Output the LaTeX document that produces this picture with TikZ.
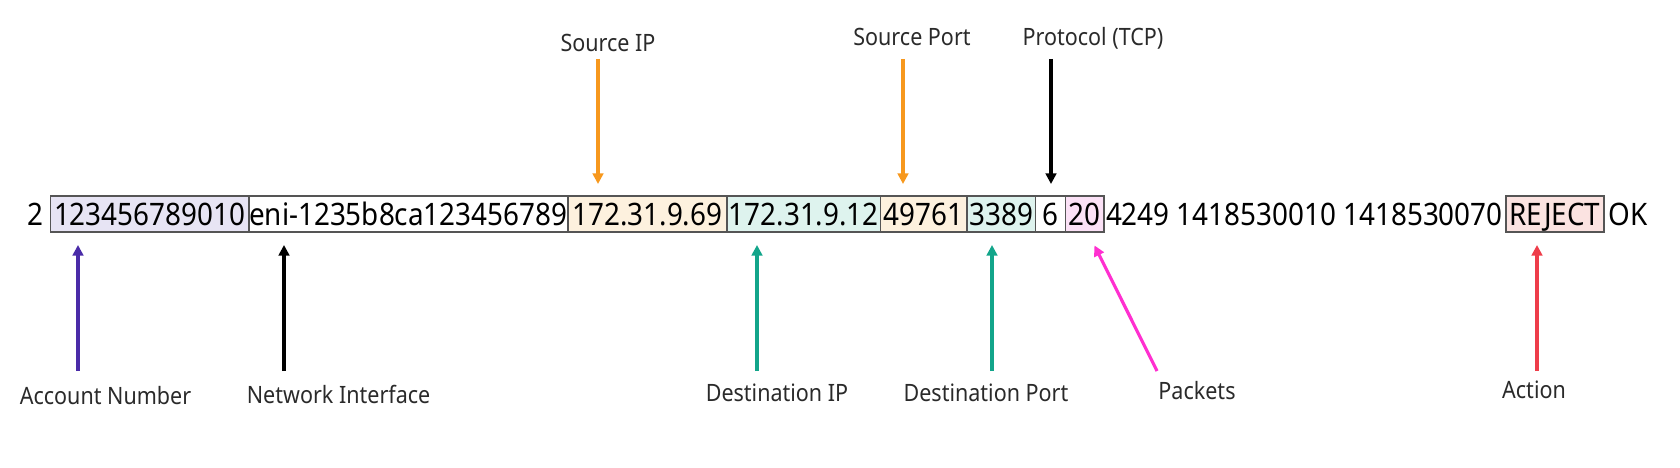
\documentclass[tikz,border=0pt]{standalone}
\usepackage{fontspec}
\setmainfont{Noto Sans}[FakeStretch=0.9]
\usetikzlibrary{arrows.meta}
\usetikzlibrary{positioning}
\definecolor{fieldline}{HTML}{555555}
\definecolor{tagtext}{HTML}{2A2A2A}
\definecolor{acctpurple}{HTML}{4A2BA8}
\definecolor{awsorange}{HTML}{F7981D}
\definecolor{awsteal}{HTML}{12A58A}
\definecolor{awspink}{HTML}{FF2FD0}
\definecolor{awsred}{HTML}{EE3D4A}
\definecolor{acctfill}{HTML}{E7E4F4}
\definecolor{srcfill}{HTML}{FDF1DE}
\definecolor{dstfill}{HTML}{DEF3EE}
\definecolor{pktfill}{HTML}{FBE1F6}
\definecolor{actfill}{HTML}{FBE3E1}
\newcommand{\recfont}{\fontsize{8.8}{10}\selectfont}
\newcommand{\tagfont}{\fontsize{6.8}{8}\selectfont}
\tikzstyle{field} = [rectangle, draw=fieldline, line width=0.5pt, outer sep=0pt, inner sep=0pt, minimum height=0.36cm, text height=6.3pt, text depth=0pt, text centered, font=\recfont]
\tikzstyle{plain} = [inner sep=0pt, outer sep=0pt, text height=6.3pt, text depth=0pt, font=\recfont]
\tikzstyle{tag} = [inner sep=0pt, anchor=base, text=tagtext, font=\tagfont]
\tikzstyle{ptr} = [line width=0.9pt, -{Triangle[length=3pt,width=3pt]}]

\begin{document}
\begin{tikzpicture}[node distance=0pt]
 \useasboundingbox (0,0) rectangle (16.8,-4.68);

 % the log record
 \node (acct) [field, fill=acctfill, minimum width=1.982cm] at (1.496,-2.14) {123456789010};
 \node (ver) [plain, left=0.07cm of acct] {2};
 \node (eni) [field, fill=white, minimum width=3.19cm, right=of acct] {eni-1235b8ca123456789};
 \node (srcip) [field, fill=srcfill, minimum width=1.593cm, right=of eni] {172.31.9.69};
 \node (dstip) [field, fill=dstfill, minimum width=1.535cm, right=of srcip] {172.31.9.12};
 \node (srcport) [field, fill=srcfill, minimum width=0.865cm, right=of dstip] {49761};
 \node (dstport) [field, fill=dstfill, minimum width=0.685cm, right=of srcport] {3389};
 \node (proto) [field, fill=white, minimum width=0.30cm, right=of dstport] {6};
 \node (pkts) [field, fill=pktfill, minimum width=0.385cm, right=of proto] {20};
 \node (times) [plain, right=0.02cm of pkts] {4249 1418530010 1418530070};
 \node (action) [field, fill=actfill, minimum width=0.975cm, right=0.035cm of times] {REJECT};
 \node (status) [plain, right=0.05cm of action] {OK};

 % labels above
 \node (srcipl) [tag] at (6.08,-0.52) {Source IP};
 \node (srcportl) [tag] at (9.12,-0.46) {Source Port};
 \node (protol) [tag] at (10.93,-0.46) {Protocol (TCP)};
 \coordinate (srcipa) at (5.98,-0.59);
 \coordinate (srcporta) at (9.03,-0.59);
 \coordinate (protoa) at (10.51,-0.59);
 \draw[ptr, awsorange, shorten >=0.12cm] (srcipa) -- (srcipa |- srcip.north);
 \draw[ptr, awsorange, shorten >=0.12cm] (srcporta) -- (srcporta |- srcport.north);
 \draw[ptr, black, shorten >=0.12cm] (protoa) -- (protoa |- proto.north);

 % labels below
 \node (acctl) [tag] at (1.055,-4.04) {Account Number};
 \node (enil) [tag] at (3.386,-4.03) {Network Interface};
 \node (dstipl) [tag] at (7.77,-4.01) {Destination IP};
 \node (dstportl) [tag] at (9.86,-4.01) {Destination Port};
 \node (pktsl) [tag] at (11.97,-3.99) {Packets};
 \node (actionl) [tag] at (15.34,-3.98) {Action};
 \coordinate (accta) at (0.78,-3.71);
 \coordinate (enia) at (2.84,-3.71);
 \coordinate (dstipa) at (7.57,-3.71);
 \coordinate (dstporta) at (9.92,-3.71);
 \coordinate (pktsa) at (11.57,-3.71);
 \coordinate (actiona) at (15.37,-3.71);
 \draw[ptr, acctpurple, shorten >=0.13cm] (accta) -- (accta |- acct.south);
 \draw[ptr, black, shorten >=0.13cm] (enia) -- (enia |- eni.south);
 \draw[ptr, awsteal, shorten >=0.13cm] (dstipa) -- (dstipa |- dstip.south);
 \draw[ptr, awsteal, shorten >=0.13cm] (dstporta) -- (dstporta |- dstport.south);
 \draw[ptr, awspink, shorten >=0.15cm] (pktsa) -- ([xshift=0.03cm]pkts.south);
 \draw[ptr, awsred, shorten >=0.13cm] (actiona) -- (actiona |- action.south);
\end{tikzpicture}
\end{document}
